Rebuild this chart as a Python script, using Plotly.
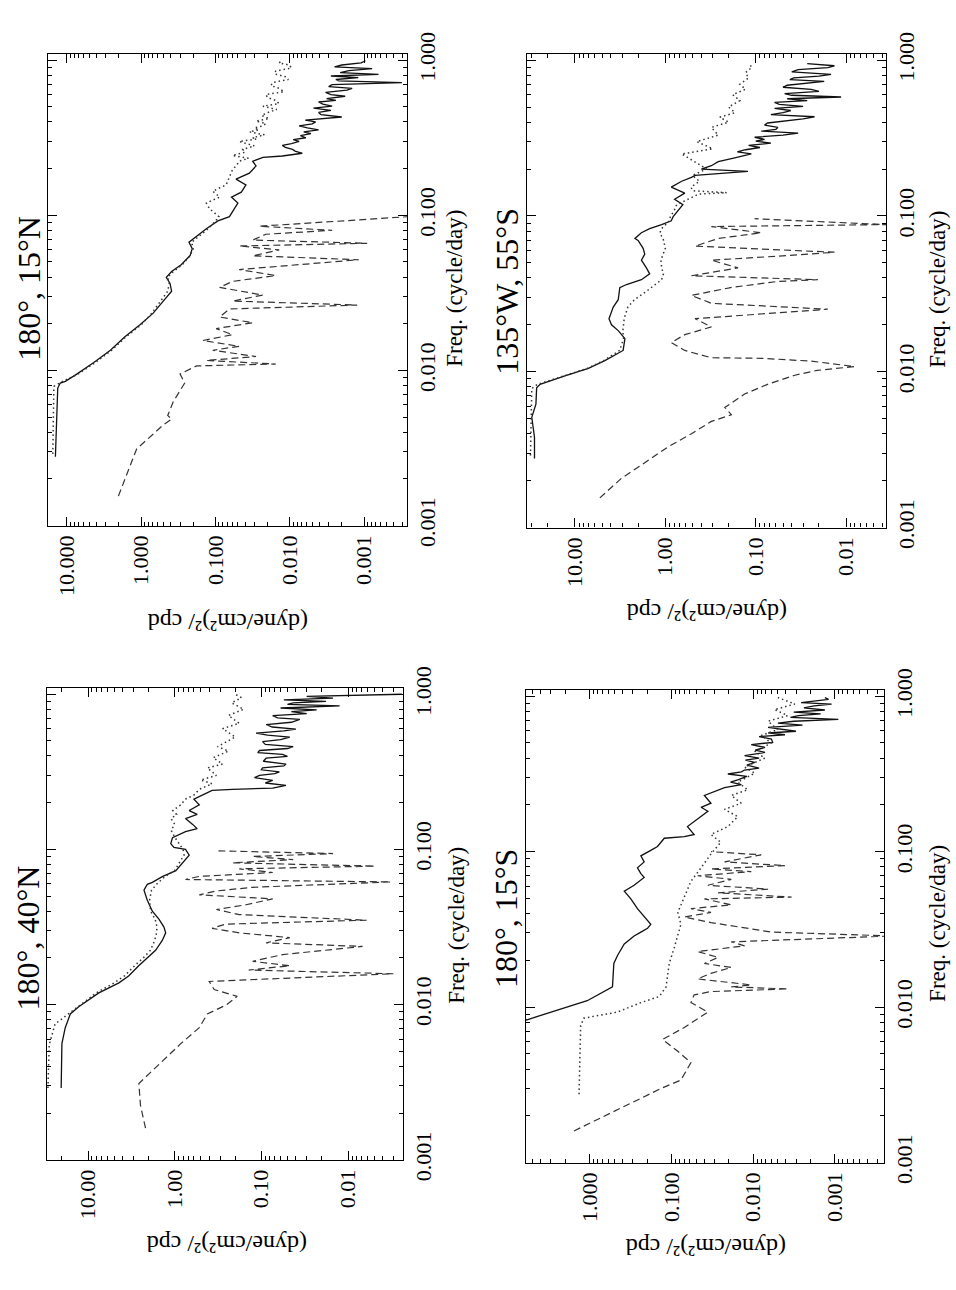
import plotly.graph_objects as go

# ---------------- data (frequency in cycle/day, power in (dyne/cm^2)^2/cpd) ----------------
# Panel 180°, 15°N
n15_solid_f = [0.00278, 0.0050, 0.0077, 0.0083, 0.0085, 0.0095, 0.0112, 0.0135, 0.0165, 0.0197, 0.0234, 0.0288,
               0.0324, 0.0364, 0.0398, 0.0434, 0.048, 0.055, 0.061, 0.067, 0.073, 0.082, 0.092, 0.098, 0.110,
               0.120, 0.131, 0.141, 0.157, 0.171, 0.187, 0.208, 0.223,
               0.236, 0.241, 0.251, 0.259, 0.266, 0.274, 0.282, 0.29, 0.299, 0.307, 0.316, 0.326, 0.336, 0.345,
               0.355, 0.366, 0.377, 0.388, 0.40, 0.41, 0.42, 0.43, 0.445, 0.46, 0.475, 0.49, 0.505, 0.52, 0.537,
               0.55, 0.565, 0.585, 0.60, 0.62, 0.64, 0.657, 0.675, 0.695, 0.717, 0.735, 0.75, 0.77, 0.79, 0.81,
               0.83, 0.855, 0.88, 0.905, 0.93, 0.96, 0.99]
n15_solid_p = [14.3, 13.9, 13.3, 12.3, 10.5, 7.3, 4.4, 2.6, 1.66, 1.04, 0.69, 0.48, 0.39, 0.41, 0.46, 0.39, 0.29,
               0.22, 0.206, 0.228, 0.18, 0.133, 0.093, 0.065, 0.056, 0.050, 0.061, 0.045, 0.039, 0.053, 0.035,
               0.0285, 0.0316,
               0.023, 0.0126, 0.0068, 0.0085, 0.0092, 0.0115, 0.0126, 0.0095, 0.0075, 0.009, 0.0061, 0.0072,
               0.0052, 0.0065, 0.0041, 0.0058, 0.0075, 0.005, 0.0045, 0.0062, 0.0035, 0.0020, 0.0038, 0.0041,
               0.0028, 0.0048, 0.0027, 0.0036, 0.0041, 0.0024, 0.0032, 0.0018, 0.0028, 0.0033, 0.0017, 0.00145,
               0.0030, 0.0027, 0.00031, 0.0022, 0.0024, 0.0012, 0.0028, 0.00064, 0.0021, 0.0016, 0.00078,
               0.0025, 0.0020, 0.0011, 0.00096]
n15_dot_f = [0.0029, 0.0079, 0.0085, 0.0095, 0.0112, 0.0135, 0.0165, 0.0197, 0.0234, 0.0288, 0.0324, 0.0364,
             0.040, 0.0434, 0.048, 0.055, 0.061, 0.067, 0.073, 0.082, 0.092, 0.098, 0.11, 0.12, 0.131, 0.143,
             0.157, 0.175, 0.197,
             0.21, 0.223, 0.233, 0.243, 0.255, 0.266, 0.28, 0.299, 0.31, 0.316, 0.33, 0.345, 0.355, 0.366, 0.377,
             0.39, 0.405, 0.42, 0.44, 0.463, 0.48, 0.505, 0.525, 0.55, 0.575, 0.60, 0.625, 0.657, 0.685, 0.717,
             0.75, 0.78, 0.815, 0.85, 0.89, 0.93, 0.96, 0.99]
n15_dot_p = [15.5, 15.0, 11.5, 7.0, 4.2, 2.5, 1.6, 1.0, 0.72, 0.52, 0.44, 0.42, 0.44, 0.37, 0.28, 0.22, 0.20,
             0.21, 0.17, 0.125, 0.10, 0.09, 0.12, 0.133, 0.088, 0.109, 0.072, 0.065, 0.059,
             0.052, 0.048, 0.036, 0.059, 0.04, 0.043, 0.03, 0.048, 0.028, 0.0316, 0.022, 0.035, 0.026, 0.03,
             0.023, 0.021, 0.0285, 0.019, 0.024, 0.019, 0.015, 0.023, 0.014, 0.0155, 0.02, 0.021, 0.012, 0.0139,
             0.018, 0.017, 0.0105, 0.0113, 0.016, 0.0155, 0.0095, 0.0102, 0.014, 0.0126]
n15_dash_f = [0.00155, 0.00233, 0.00313, 0.00363, 0.00444, 0.00485, 0.00513, 0.0063, 0.0077, 0.0083, 0.0095,
              0.0107, 0.0110, 0.0116, 0.0123, 0.0135, 0.0143, 0.0156, 0.0170, 0.0186, 0.0203, 0.0221, 0.0249,
              0.0264, 0.0280, 0.0306, 0.0343, 0.0375, 0.0409, 0.0447, 0.0517, 0.0548, 0.0598, 0.0634, 0.066,
              0.0692, 0.0755, 0.080, 0.085, 0.098]
n15_dash_p = [2.03, 1.45, 1.15, 0.81, 0.51, 0.39, 0.44, 0.37, 0.29, 0.26, 0.30, 0.18, 0.0155, 0.133, 0.0285,
              0.109, 0.048, 0.148, 0.059, 0.098, 0.0316, 0.088, 0.065, 0.00124, 0.059, 0.0232, 0.088, 0.059,
              0.0155, 0.048, 0.00118, 0.0316, 0.0139, 0.048, 0.00091, 0.0316, 0.021, 0.0027, 0.0257, 0.00025]

# Panel 180°, 40°N
n40_solid_f = [0.0029, 0.0056, 0.0071, 0.0087, 0.0097, 0.0119, 0.0138, 0.0153, 0.0178, 0.020, 0.0224, 0.0259,
               0.029, 0.0316, 0.0355, 0.040, 0.047, 0.0546, 0.0596, 0.0613, 0.0668, 0.073, 0.084, 0.0917, 0.1,
               0.103, 0.109, 0.119, 0.13, 0.136, 0.145, 0.158, 0.168, 0.178, 0.194, 0.211, 0.224, 0.24, 0.244,
               0.248, 0.259, 0.268, 0.279, 0.29, 0.30, 0.308, 0.316, 0.326, 0.335, 0.345, 0.355, 0.37, 0.387,
               0.398, 0.41, 0.42, 0.434, 0.447, 0.46, 0.475, 0.495, 0.51, 0.53, 0.545, 0.562, 0.58, 0.596, 0.615,
               0.638, 0.66, 0.688, 0.705, 0.729, 0.75, 0.772, 0.794, 0.815, 0.841, 0.86, 0.88, 0.9, 0.92, 0.944,
               0.97, 1.0]
n40_solid_p = [20.4, 20.0, 18.3, 16.0, 12.8, 7.5, 4.4, 3.4, 2.6, 2.07, 1.66, 1.39, 1.27, 1.33, 1.52, 1.81, 2.07,
               2.26, 2.07, 1.81, 1.39, 0.97, 0.78, 0.68, 0.75, 1.02, 1.11, 1.06, 0.75, 0.55, 0.62, 0.75, 0.55,
               0.68, 0.52, 0.60, 0.48, 0.37, 0.215,
               0.074, 0.052, 0.09, 0.074, 0.12, 0.105, 0.07, 0.062, 0.10, 0.097, 0.055, 0.052, 0.095, 0.088,
               0.05, 0.057, 0.11, 0.105, 0.05, 0.043, 0.09, 0.097, 0.06, 0.047, 0.085, 0.115, 0.055, 0.040,
               0.075, 0.088, 0.045, 0.036, 0.065, 0.074, 0.03, 0.045, 0.023, 0.06, 0.0125, 0.05, 0.043, 0.018,
               0.055, 0.0149, 0.03, 0.0024]
n40_dot_f = [0.0029, 0.0055, 0.0075, 0.0088, 0.0097, 0.0119, 0.0138, 0.0153, 0.0178, 0.020, 0.0224, 0.0259,
             0.029, 0.0316, 0.0355, 0.040, 0.047, 0.0546, 0.06, 0.0668, 0.073, 0.084, 0.092, 0.1, 0.11, 0.12,
             0.133, 0.145, 0.158, 0.168, 0.178, 0.194, 0.211, 0.224, 0.244, 0.265, 0.28, 0.30, 0.335, 0.355,
             0.39, 0.43, 0.46, 0.53, 0.6, 0.65, 0.73, 0.8, 0.88, 0.95, 1.0]
n40_dot_p = [29, 28, 24, 16.5, 13, 8.0, 5.0, 3.8, 2.9, 2.3, 1.9, 1.7, 1.62, 1.6, 1.68, 1.9, 1.95, 1.85, 1.6,
             1.3, 1.0, 0.85, 0.78, 0.8, 0.9, 1.0, 1.1, 1.0, 1.1, 0.95, 1.05, 0.85, 0.75, 0.6, 0.52, 0.37, 0.5,
             0.33, 0.42, 0.28, 0.36, 0.24, 0.32, 0.2, 0.28, 0.18, 0.24, 0.16, 0.22, 0.17, 0.2]
n40_dash_f = [0.0016, 0.00224, 0.0031, 0.0056, 0.0071, 0.0087, 0.0100, 0.0113, 0.0125, 0.0141, 0.0158, 0.0167,
              0.0178, 0.019, 0.021, 0.0237, 0.025, 0.027, 0.029, 0.031, 0.033, 0.035, 0.038, 0.041, 0.044,
              0.048, 0.051, 0.054, 0.057, 0.0617, 0.064, 0.067, 0.071, 0.075, 0.078, 0.082, 0.086, 0.09,
              0.094, 0.098]
n40_dash_p = [2.17, 2.48, 2.59, 0.85, 0.52, 0.42, 0.25, 0.19, 0.35, 0.40, 0.0030, 0.14, 0.047, 0.126, 0.057,
              0.0068, 0.088, 0.047, 0.18, 0.37, 0.26, 0.0061, 0.18, 0.33, 0.15, 0.074, 0.52, 0.33, 0.126,
              0.0032, 0.75, 0.52, 0.074, 0.18, 0.0049, 0.215, 0.043, 0.126, 0.0149, 0.33]

# Panel 135°W, 55°S
s55_solid_f = [0.00277, 0.0038, 0.0051, 0.0062, 0.0079, 0.0083, 0.0094, 0.0105, 0.0118, 0.0129, 0.0137,
               0.0163, 0.0183, 0.020, 0.0219, 0.026, 0.029, 0.0347, 0.0363, 0.039, 0.0425, 0.0464, 0.052,
               0.0569, 0.062, 0.0697, 0.0717, 0.078, 0.083, 0.088, 0.093, 0.099, 0.108, 0.118, 0.128, 0.14,
               0.153, 0.167, 0.177, 0.182, 0.193, 0.20, 0.21, 0.223, 0.236,
               0.25, 0.258, 0.266, 0.275, 0.284, 0.293, 0.302, 0.31, 0.32, 0.33, 0.34, 0.35, 0.36, 0.37, 0.383,
               0.395, 0.408, 0.42, 0.433, 0.447, 0.46, 0.475, 0.49, 0.505, 0.52, 0.535, 0.55, 0.565, 0.58,
               0.595, 0.61, 0.63, 0.65, 0.67, 0.69, 0.71, 0.73, 0.75, 0.77, 0.79, 0.81, 0.84, 0.87, 0.895, 0.92,
               0.95]
s55_solid_p = [28, 28, 30, 27, 26.5, 24.3, 12.9, 7.1, 4.67, 3.47, 2.93, 2.8, 3.3, 3.94, 4.2, 3.77, 3.32, 3.19,
               2.69, 1.84, 1.49, 1.62, 1.84, 1.69, 1.76, 2.0, 2.17, 1.84, 1.49, 1.10, 0.86, 0.82, 0.72, 0.64,
               0.79, 0.61, 0.86, 0.66, 0.515, 0.47, 0.122, 0.40, 0.31, 0.26, 0.171,
               0.112, 0.16, 0.13, 0.09, 0.12, 0.068, 0.1, 0.08, 0.103, 0.05, 0.034, 0.087, 0.06, 0.057, 0.08,
               0.074, 0.045, 0.03, 0.0224, 0.068, 0.05, 0.041, 0.062, 0.03, 0.055, 0.062, 0.027, 0.045, 0.0114,
               0.04, 0.048, 0.02, 0.0244, 0.05, 0.045, 0.025, 0.0175, 0.042, 0.038, 0.02, 0.0147, 0.04, 0.034,
               0.016, 0.0135, 0.027]
s55_dot_f = [0.0029, 0.0078, 0.0083, 0.0094, 0.0105, 0.0118, 0.0137, 0.0163, 0.0183, 0.020, 0.022, 0.026,
             0.029, 0.033, 0.036, 0.039, 0.0425, 0.0464, 0.052, 0.057, 0.062, 0.07, 0.078, 0.083, 0.088, 0.093,
             0.099, 0.108, 0.118, 0.128, 0.138, 0.141, 0.145, 0.153, 0.167, 0.182, 0.20, 0.21, 0.25, 0.27,
             0.30, 0.33, 0.37, 0.40, 0.43, 0.46, 0.50, 0.55, 0.60, 0.65, 0.70, 0.77, 0.83, 0.90, 0.95]
s55_dot_p = [31, 30, 26, 13.5, 7.3, 4.8, 3.2, 2.9, 2.95, 2.9, 2.85, 2.6, 2.2, 1.6, 1.3, 1.1, 1.05, 1.1, 1.12,
             1.05, 1.0, 1.05, 1.15, 1.1, 0.98, 0.9, 0.88, 0.8, 0.75, 0.55, 0.43, 0.21, 0.5, 0.52, 0.42, 0.5,
             0.35, 0.4, 0.66, 0.3, 0.45, 0.26, 0.31, 0.2, 0.25, 0.17, 0.2, 0.15, 0.18, 0.13, 0.15, 0.12, 0.13,
             0.11, 0.12]
s55_dash_f = [0.00155, 0.00207, 0.00261, 0.0033, 0.0040, 0.0048, 0.0053, 0.0059, 0.0072, 0.0083, 0.0095,
              0.0102, 0.0108, 0.0117, 0.0122, 0.0123, 0.0137, 0.0154, 0.0173, 0.0194, 0.0219, 0.0238, 0.0252,
              0.0275, 0.0309, 0.0347, 0.038, 0.039, 0.0413, 0.0464, 0.052, 0.0552, 0.0585, 0.064, 0.0717,
              0.078, 0.0855, 0.088, 0.093, 0.096]
s55_dash_p = [5.3, 3.06, 1.69, 0.93, 0.515, 0.31, 0.186, 0.22, 0.133, 0.074, 0.037, 0.021, 0.0081, 0.0244,
              0.087, 0.31, 0.61, 0.86, 0.61, 0.31, 0.47, 0.068, 0.016, 0.31, 0.515, 0.19, 0.057, 0.0206, 0.515,
              0.157, 0.31, 0.057, 0.0135, 0.47, 0.26, 0.087, 0.31, 0.0036, 0.0244, 0.103]

# Panel 180°, 15°S
s15_solid_f = [0.0028, 0.0055, 0.0076, 0.0083, 0.011, 0.0135, 0.0191, 0.0215, 0.0255, 0.0287, 0.0304, 0.0322,
               0.0341, 0.0361, 0.0383, 0.043, 0.0497, 0.0557, 0.0608, 0.0683, 0.0723, 0.0788, 0.086, 0.094,
               0.102, 0.108, 0.115, 0.122, 0.125, 0.129, 0.145, 0.162, 0.182, 0.193, 0.205, 0.23,
               0.258, 0.27, 0.28, 0.29, 0.305, 0.316, 0.326, 0.335, 0.345, 0.36, 0.375, 0.388, 0.40, 0.415,
               0.435, 0.45, 0.468, 0.488, 0.505, 0.53, 0.55, 0.565, 0.58, 0.595, 0.61, 0.63, 0.652, 0.67, 0.69,
               0.71, 0.73, 0.75, 0.77, 0.79, 0.815, 0.84, 0.865, 0.89, 0.91, 0.93, 0.955, 0.98]
s15_solid_p = [14, 14, 12, 5.9, 1.08, 0.53, 0.51, 0.46, 0.38, 0.288, 0.238, 0.197, 0.18, 0.197, 0.217, 0.262,
               0.316, 0.38, 0.288, 0.217, 0.238, 0.262, 0.217, 0.238, 0.18, 0.149, 0.135, 0.123, 0.07, 0.053,
               0.064, 0.048, 0.036, 0.0436, 0.033, 0.0397,
               0.0225, 0.014, 0.019, 0.0155, 0.012, 0.0205, 0.014, 0.0128, 0.0085, 0.012, 0.0096, 0.0125,
               0.0085, 0.0128, 0.0072, 0.0095, 0.0072, 0.0106, 0.0058, 0.006, 0.0085, 0.0041, 0.0066, 0.003,
               0.0041, 0.0066, 0.0025, 0.005, 0.0032, 0.00091, 0.0035, 0.0028, 0.0015, 0.0032, 0.00133, 0.0024,
               0.0018, 0.0011, 0.0026, 0.0019, 0.0012, 0.00133]
s15_dot_f = [0.00275, 0.0076, 0.0085, 0.0093, 0.0107, 0.0117, 0.0135, 0.0191, 0.0241, 0.0295, 0.0341, 0.0407,
             0.051, 0.0645, 0.0788, 0.0967, 0.115, 0.129, 0.145, 0.168, 0.187, 0.205, 0.23, 0.25, 0.28, 0.32,
             0.35, 0.40, 0.44, 0.50, 0.56, 0.61, 0.69, 0.75, 0.82, 0.89, 0.98]
s15_dot_p = [1.36, 1.30, 1.19, 0.46, 0.238, 0.142, 0.117, 0.107, 0.093, 0.084, 0.077, 0.084, 0.07, 0.058,
             0.0436, 0.033, 0.025, 0.033, 0.0205, 0.0155, 0.0225, 0.0141, 0.0186, 0.0117, 0.0155, 0.0096,
             0.0128, 0.0072, 0.0096, 0.006, 0.008, 0.005, 0.0066, 0.0038, 0.0055, 0.0031, 0.005]
s15_dash_f = [0.0016, 0.00189, 0.00225, 0.0026, 0.0030, 0.0034, 0.0044, 0.0052, 0.0062, 0.0074, 0.0093, 0.0107,
              0.012, 0.0126, 0.0131, 0.0135, 0.0139, 0.0152, 0.0165, 0.018, 0.0191, 0.0209, 0.0228, 0.0248,
              0.0263, 0.0287, 0.0304, 0.035, 0.038, 0.0407, 0.043, 0.0455, 0.0497, 0.051, 0.0544, 0.0574,
              0.0608, 0.0664, 0.070, 0.0745, 0.0775, 0.0813, 0.086, 0.0955, 0.1]
s15_dash_p = [1.57, 0.81, 0.42, 0.238, 0.135, 0.077, 0.058, 0.084, 0.129, 0.07, 0.036, 0.058, 0.053, 0.033,
              0.00375, 0.0186, 0.0106, 0.048, 0.033, 0.0186, 0.0397, 0.027, 0.048, 0.0128, 0.0186, 0.0002,
              0.006, 0.033, 0.07, 0.033, 0.058, 0.0186, 0.0397, 0.0034, 0.027, 0.0066, 0.036, 0.0186, 0.048,
              0.0106, 0.033, 0.0041, 0.0225, 0.008, 0.033]

# tick labels
freq_tickvals = [0.001, 0.01, 0.1, 1.0]
freq_ticktext = ["0.001", "0.010", "0.100", "1.000"]
pow_tickvals_5 = [10, 1, 0.1, 0.01, 0.001]
pow_ticktext_3dec = ["10.000", "1.000", "0.100", "0.010", "0.001"]
pow_tickvals_4 = [10, 1, 0.1, 0.01]
pow_ticktext_2dec = ["10.00", "1.00", "0.10", "0.01"]
pow_tickvals_br = [1, 0.1, 0.01, 0.001]
pow_ticktext_br = ["1.000", "0.100", "0.010", "0.001"]

panel_titles = ["180°, 15°N", "135°W, 55°S", "180°, 40°N", "180°, 15°S"]
freq_title = "Freq. (cycle/day)"
pow_title = "(dyne/cm²)²/ cpd"

# ---------------- layout geometry (pixels) ----------------
W, H = 956, 1290
SERIF = "Liberation Serif, Times New Roman, serif"

panels = [
    dict(box=(48, 407, 33, 521), prange=[1.255, -3.577],
         data=(n15_solid_f, n15_solid_p, n15_dot_f, n15_dot_p, n15_dash_f, n15_dash_p),
         pt=(pow_tickvals_5, pow_ticktext_3dec), title=(29, 276), ftitle=(455, 276), ptitle=(228, 620)),
    dict(box=(527, 886, 33, 523), prange=[1.53, -2.44],
         data=(s55_solid_f, s55_solid_p, s55_dot_f, s55_dot_p, s55_dash_f, s55_dash_p),
         pt=(pow_tickvals_4, pow_ticktext_2dec), title=(507, 279), ftitle=(938, 277), ptitle=(707, 611)),
    dict(box=(47, 403, 689, 1177), prange=[1.473, -2.634],
         data=(n40_solid_f, n40_solid_p, n40_dot_f, n40_dot_p, n40_dash_f, n40_dash_p),
         pt=(pow_tickvals_4, pow_ticktext_2dec), title=(28, 948), ftitle=(457, 935), ptitle=(227, 1264)),
    dict(box=(526, 884, 691, 1180), prange=[0.783, -3.60],
         data=(s15_solid_f, s15_solid_p, s15_dot_f, s15_dot_p, s15_dash_f, s15_dash_p),
         pt=(pow_tickvals_br, pow_ticktext_br), title=(506, 928), ftitle=(938, 933), ptitle=(706, 1267)),
]

minor_pow = [k * 10.0 ** e for e in range(-5, 3) for k in range(2, 10)]
minor_freq = [k * 10.0 ** e for e in range(-4, 1) for k in range(2, 10)]

fig = go.Figure()
annotations = []
layout = dict(width=W, height=H, margin=dict(l=0, r=0, t=0, b=0),
              paper_bgcolor="white", plot_bgcolor="white", showlegend=False)

styles = [dict(color="#111111", width=1.3, dash="solid"),
          dict(color="#333333", width=1.5, dash="1.5px,3px"),
          dict(color="#333333", width=1.2, dash="7px,4px")]

for i, p in enumerate(panels):
    n = i + 1
    xa = "xaxis" if n == 1 else f"xaxis{n}"
    ya = "yaxis" if n == 1 else f"yaxis{n}"
    xref = "x" if n == 1 else f"x{n}"
    yref = "y" if n == 1 else f"y{n}"
    x0, x1, y0, y1 = p["box"]
    sf, sp, df, dp, hf, hp = p["data"]
    for (ff, pp), st in zip([(sf, sp), (df, dp), (hf, hp)], styles):
        fig.add_trace(go.Scatter(x=pp, y=ff, mode="lines", line=st, xaxis=xref, yaxis=yref,
                                 hoverinfo="skip"))
    layout[xa] = dict(type="log", domain=[x0 / W, x1 / W], range=p["prange"], anchor=yref,
                      tickmode="array", tickvals=p["pt"][0], ticktext=p["pt"][1], tickangle=-90,
                      ticks="inside", ticklen=9, tickwidth=1, tickcolor="black",
                      minor=dict(ticks="inside", ticklen=4, tickwidth=1, tickcolor="black",
                                 tickmode="array", tickvals=minor_pow),
                      mirror="allticks", showline=True, linecolor="black", linewidth=1.2,
                      showgrid=False, zeroline=False, side="bottom",
                      tickfont=dict(family=SERIF, size=22, color="black"))
    layout[ya] = dict(type="log", domain=[1 - y1 / H, 1 - y0 / H], range=[-3, 0.04], anchor=xref,
                      tickmode="array", tickvals=freq_tickvals, ticktext=freq_ticktext, tickangle=-90,
                      ticks="inside", ticklen=9, tickwidth=1, tickcolor="black",
                      minor=dict(ticks="inside", ticklen=4, tickwidth=1, tickcolor="black",
                                 tickmode="array", tickvals=minor_freq),
                      mirror="allticks", showline=True, linecolor="black", linewidth=1.2,
                      showgrid=False, zeroline=False, side="right",
                      tickfont=dict(family=SERIF, size=22, color="black"))
    tx, ty = p["title"]
    annotations.append(dict(x=tx / W, y=1 - ty / H, xref="paper", yref="paper", text=panel_titles[i],
                            textangle=-90, showarrow=False, xanchor="center", yanchor="middle",
                            font=dict(family=SERIF, size=32, color="black")))
    fx, fy = p["ftitle"]
    annotations.append(dict(x=fx / W, y=1 - fy / H, xref="paper", yref="paper", text=freq_title,
                            textangle=-90, showarrow=False, xanchor="center", yanchor="middle",
                            font=dict(family=SERIF, size=23, color="black")))
    qx, qy = p["ptitle"]
    annotations.append(dict(x=qx / W, y=1 - qy / H, xref="paper", yref="paper", text=pow_title,
                            textangle=180, showarrow=False, xanchor="center", yanchor="middle",
                            font=dict(family=SERIF, size=24, color="black")))

layout["annotations"] = annotations
fig.update_layout(**layout)
fig.write_html("out.html", config={"displayModeBar": False},
               post_script="document.body.style.margin='0px';document.body.style.overflow='hidden';")
